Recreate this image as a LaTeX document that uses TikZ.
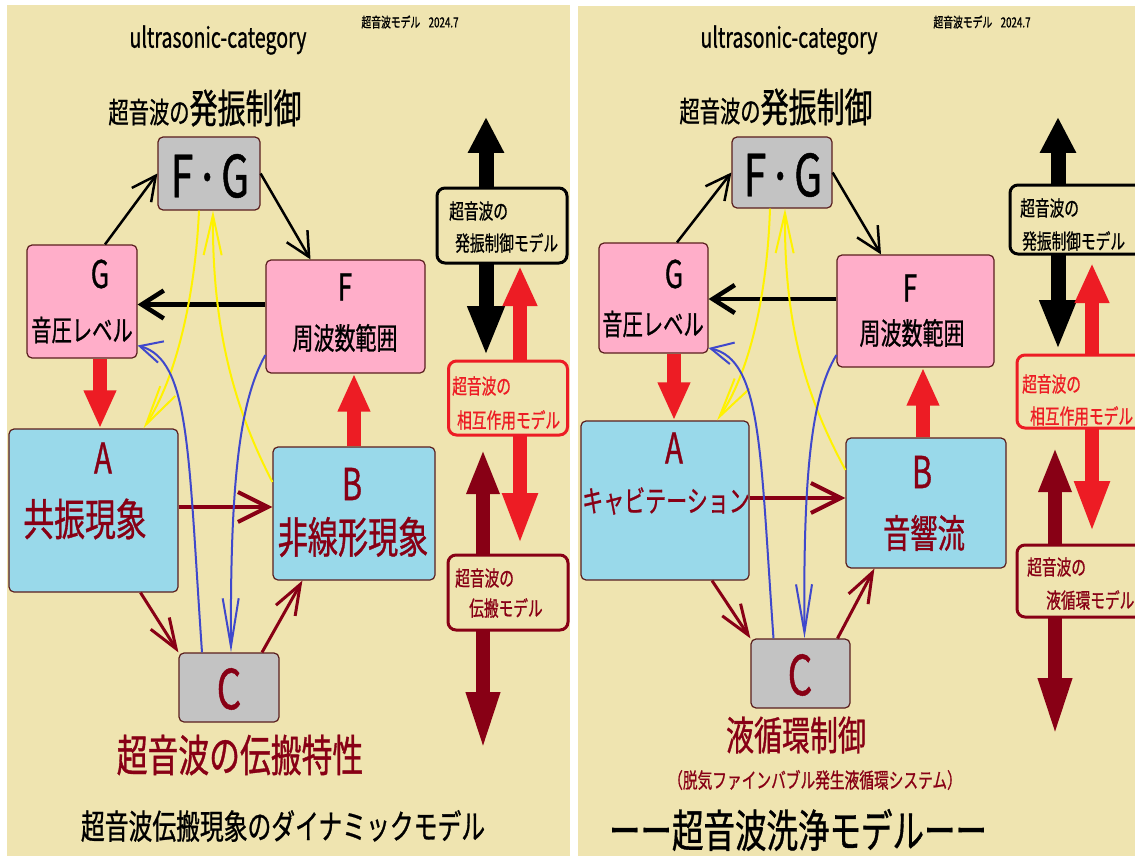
\documentclass[tikz,border=0pt]{standalone}
\usepackage{fontspec}
\usetikzlibrary{arrows.meta}
\setmainfont{Noto Sans CJK JP}[FakeStretch=0.7,FakeBold=0.8]
\newcommand\fsz[1]{\fontsize{#1}{#1}\selectfont}
\newcommand\fgtext{F{\fsz{40}\raisebox{5pt}{・}}G}
\definecolor{bgc}{RGB}{239,228,176}
\definecolor{pinkc}{RGB}{255,174,201}
\definecolor{bluec}{RGB}{153,217,234}
\definecolor{grayc}{RGB}{195,195,195}
\definecolor{dredc}{RGB}{136,0,21}
\definecolor{redc}{RGB}{237,28,36}
\definecolor{yelc}{RGB}{255,242,0}
\definecolor{bluln}{RGB}{63,72,204}
\definecolor{boxln}{RGB}{90,30,30}
\tikzset{
  box/.style={draw=boxln,line width=1.2pt,rounded corners=5pt,inner sep=0pt},
  pinkbox/.style={box,fill=pinkc},
  bluebox/.style={box,fill=bluec},
  graybox/.style={box,fill=grayc},
  modelbox/.style={draw=#1,line width=3pt,fill=bgc,rounded corners=8pt,inner sep=0pt},
  txt/.style={inner sep=0pt},
  bkline/.style={draw=black,line width=2.5pt,-{Straight Barb[length=24pt,width=24pt]}},
  bkthick/.style={draw=black,line width=4.5pt,-{Straight Barb[length=22pt,width=28pt]}},
  drline/.style={draw=dredc,line width=3pt,-{Straight Barb[length=30pt,width=22pt]}},
  drthick/.style={draw=dredc,line width=4pt,-{Straight Barb[length=30pt,width=30pt]}},
  yline/.style={draw=yelc,line width=2pt,-{Straight Barb[length=40pt,width=18pt]}},
  bline/.style={draw=bluln,line width=2pt,-{Straight Barb[length=22pt,width=22pt]}},
  blinelong/.style={draw=bluln,line width=2pt,-{Straight Barb[length=48pt,width=16pt]}},
  redblock/.style={draw=redc,line width=14pt,-{Triangle[length=38pt,width=30pt]}},
  bkdouble/.style={draw=black,line width=15pt,{Triangle[length=36pt,width=34pt]}-{Triangle[length=50pt,width=34pt]}},
  rddouble/.style={draw=redc,line width=14pt,{Triangle[length=40pt,width=32pt]}-{Triangle[length=52pt,width=32pt]}},
  drdouble/.style={draw=dredc,line width=14pt,{Triangle[length=45pt,width=30pt]}-{Triangle[length=60pt,width=30pt]}},
}
\begin{document}
\begin{tikzpicture}[x=1pt,y=-1pt]
\useasboundingbox (0,0) rectangle (1135,856);
\fill[white] (0,0) rectangle (1135,856);
\fill[bgc] (7,5) rectangle (570,856);
\fill[bgc] (578,6) rectangle (1135,856);

% ================= LEFT PANEL =================
\node[txt,font=\fsz{28}] (LT1) at (218,40) {ultrasonic-category};
\node[txt,font=\fsz{14}] (LT2) at (410,22) {超音波モデル\hspace{0.6em}2024.7};
\node[txt] (LT3) at (205,108) {{\fsz{29}超音波の}{\fsz{40}発振制御}};

\node[graybox,minimum width=102pt,minimum height=73pt] (LFG) at (209,173.5) {};
\node[pinkbox,minimum width=110pt,minimum height=113pt] (LG) at (82,301.5) {};
\node[pinkbox,minimum width=159pt,minimum height=113pt] (LF) at (345.5,316.5) {};
\node[bluebox,minimum width=169pt,minimum height=163pt] (LA) at (93.5,510.5) {};
\node[bluebox,minimum width=162pt,minimum height=133pt] (LB) at (354,513.5) {};
\node[graybox,minimum width=100pt,minimum height=69pt] (LC) at (229,687.5) {};

\node[txt,font=\fsz{58}] (LFGt) at (210,176) {\fgtext};
\node[txt,font=\fsz{38}] (LGa) at (100,274) {G};
\node[txt,font=\fsz{29}] (LGb) at (82,330) {音圧レベル};
\node[txt,font=\fsz{37}] (LFa) at (345,287) {F};
\node[txt,font=\fsz{30}] (LFb) at (345,338) {周波数範囲};
\node[txt,font=\fsz{42},text=dredc] (LAa) at (103,458) {A};
\node[txt,font=\fsz{44},text=dredc] (LAb) at (85,519) {共振現象};
\node[txt,font=\fsz{44},text=dredc] (LBa) at (352,484) {B};
\node[txt,font=\fsz{43},text=dredc] (LBb) at (353,537) {非線形現象};
\node[txt,font=\fsz{55},text=dredc] (LCa) at (229,689) {C};
\node[txt,font=\fsz{44},text=dredc] (LT4) at (240,755) {超音波の伝搬特性};
\node[txt,font=\fsz{34}] (LT5) at (283,826) {超音波伝搬現象のダイナミックモデル};

% connectors
\draw[bkline] ([xshift=23pt]LG.north) -- (LFG.west);
\draw[bkline] (LFG.east) -- ([xshift=-35pt]LF.north);
\draw[bkthick] ([yshift=12pt]LF.west) -- ([yshift=12pt]LF.west -| LG.east);
\draw[redblock] ([xshift=18pt]LG.south) -- ([xshift=18pt]LG.south |- LA.north);
\draw[redblock] (LB.north) -- (LB.north |- LF.south);
\draw[drthick] ([yshift=3.5pt]LA.east) -- ([yshift=3.5pt]LA.east -| LB.west);
\draw[drline] ([xshift=47pt]LA.south) -- (LC.north west);
\draw[drline] ([xshift=33pt]LC.north) -- ([xshift=30pt]LB.south west);
\draw[yline] ([xshift=-10pt]LFG.south) .. controls (195,300) and (175,380) .. ([xshift=50pt]LA.north);
\draw[yline] ([yshift=31.5pt]LB.west) .. controls (235,410) and (212,330) .. ([xshift=4pt]LFG.south);
\draw[bline] ([xshift=-27pt]LC.north) .. controls (188,450) and (190,360) .. ([yshift=-44pt]LG.east);
\draw[blinelong] ([yshift=-38.5pt]LF.west) .. controls (240,400) and (230,480) .. ([xshift=2pt]LC.north);

% model column
\coordinate (LbkTop) at (486,117);
\coordinate (LbkBot) at (486,356);
\coordinate (LrdTop) at (520,266);
\coordinate (LrdBot) at (520,545);
\coordinate (LdrTop) at (483,449);
\coordinate (LdrBot) at (483,752);
\draw[bkdouble] (LbkTop) -- (LbkBot);
\draw[rddouble] (LrdTop) -- (LrdBot);
\draw[drdouble] (LdrTop) -- (LdrBot);
\node[modelbox=black,minimum width=130pt,minimum height=75pt] (LM1) at (502,225.5) {};
\node[modelbox=redc,minimum width=119pt,minimum height=74pt] (LM2) at (508,398) {};
\node[modelbox=dredc,minimum width=120pt,minimum height=75pt] (LM3) at (508,592.5) {};
\node[txt,font=\fsz{21},anchor=west] (LM1a) at (449,211) {超音波の};
\node[txt,font=\fsz{21},anchor=west] (LM1b) at (455,243) {発振制御モデル};
\node[txt,font=\fsz{21},anchor=west,text=redc] (LM2a) at (452,386) {超音波の};
\node[txt,font=\fsz{21},anchor=west,text=redc] (LM2b) at (457,420) {相互作用モデル};
\node[txt,font=\fsz{21},anchor=west,text=dredc] (LM3a) at (455,578) {超音波の};
\node[txt,font=\fsz{21},anchor=west,text=dredc] (LM3b) at (469,608) {伝搬モデル};

% ================= RIGHT PANEL =================
\node[txt,font=\fsz{28}] (RT1) at (789,40) {ultrasonic-category};
\node[txt,font=\fsz{14}] (RT2) at (982,22) {超音波モデル\hspace{0.6em}2024.7};
\node[txt] (RT3) at (776,107) {{\fsz{29}超音波の}{\fsz{40}発振制御}};

\node[graybox,minimum width=100pt,minimum height=71pt] (RFG) at (782,172.5) {};
\node[pinkbox,minimum width=109pt,minimum height=110pt] (RG) at (653.5,298) {};
\node[pinkbox,minimum width=157pt,minimum height=112pt] (RF) at (915.5,311) {};
\node[bluebox,minimum width=168pt,minimum height=159pt] (RA) at (665,500.5) {};
\node[bluebox,minimum width=160pt,minimum height=130pt] (RB) at (926,503) {};
\node[graybox,minimum width=99pt,minimum height=69pt] (RC) at (800.5,673.5) {};

\node[txt,font=\fsz{58}] (RFGt) at (783,175) {\fgtext};
\node[txt,font=\fsz{38}] (RGa) at (674,274) {G};
\node[txt,font=\fsz{29}] (RGb) at (653,324) {音圧レベル};
\node[txt,font=\fsz{37}] (RFa) at (910,288) {F};
\node[txt,font=\fsz{30}] (RFb) at (912,333) {周波数範囲};
\node[txt,font=\fsz{42},text=dredc] (RAa) at (674,448) {A};
\node[txt,font=\fsz{30},text=dredc] (RAb) at (666,501) {キャビテーション};
\node[txt,font=\fsz{44},text=dredc] (RBa) at (922,472) {B};
\node[txt,font=\fsz{39},text=dredc] (RBb) at (924,533) {音響流};
\node[txt,font=\fsz{55},text=dredc] (RCa) at (800,675) {C};
\node[txt,font=\fsz{40},text=dredc] (RT4) at (796,735) {液循環制御};
\node[txt,font=\fsz{21},text=dredc] (RT5) at (815,780) {（脱気ファインバブル発生液循環システム）};
\node[txt,font=\fsz{45}] (RT6) at (798,830) {ーー超音波洗浄モデルーー};

\draw[bkline] ([xshift=23.5pt]RG.north) -- (RFG.west);
\draw[bkline] (RFG.east) -- ([xshift=-34.5pt]RF.north);
\draw[bkthick] ([yshift=12pt]RF.west) -- ([yshift=12pt]RF.west -| RG.east);
\draw[redblock] ([xshift=20.5pt]RG.south) -- ([xshift=20.5pt]RG.south |- RA.north);
\draw[redblock] ([xshift=-3pt]RB.north) -- ([xshift=-3pt]RB.north |- RF.south);
\draw[drthick] ([yshift=2.5pt]RA.east) -- ([yshift=2.5pt]RA.east -| RB.west);
\draw[drline] ([xshift=47pt]RA.south) -- (RC.north west);
\draw[drline] ([xshift=37pt]RC.north) -- ([xshift=29pt]RB.south west);
\draw[yline] ([xshift=-12pt]RFG.south) .. controls (767,300) and (748,375) .. ([xshift=52pt]RA.north);
\draw[yline] ([yshift=33pt]RB.west) .. controls (808,400) and (784,330) .. ([xshift=3pt]RFG.south);
\draw[bline] ([xshift=-27pt]RC.north) .. controls (760,450) and (762,360) .. ([yshift=-50pt]RG.east);
\draw[blinelong] ([yshift=-44pt]RF.west) .. controls (812,395) and (803,470) .. ([xshift=4pt]RC.north);

\coordinate (RbkTop) at (1058,117);
\coordinate (RbkBot) at (1058,350);
\coordinate (RrdTop) at (1092,263);
\coordinate (RrdBot) at (1092,533);
\coordinate (RdrTop) at (1055,447);
\coordinate (RdrBot) at (1055,738);
\draw[bkdouble] (RbkTop) -- (RbkBot);
\draw[rddouble] (RrdTop) -- (RrdBot);
\draw[drdouble] (RdrTop) -- (RdrBot);
\node[modelbox=black,minimum width=135pt,minimum height=69pt] (RM1) at (1077.5,219.5) {};
\node[modelbox=redc,minimum width=128pt,minimum height=73pt] (RM2) at (1081,391.5) {};
\node[modelbox=dredc,minimum width=128pt,minimum height=72pt] (RM3) at (1081,581) {};
\node[txt,font=\fsz{21},anchor=west] (RM1a) at (1020,208) {超音波の};
\node[txt,font=\fsz{21},anchor=west] (RM1b) at (1022,241) {発振制御モデル};
\node[txt,font=\fsz{21},anchor=west,text=redc] (RM2a) at (1022,384) {超音波の};
\node[txt,font=\fsz{21},anchor=west,text=redc] (RM2b) at (1030,416) {相互作用モデル};
\node[txt,font=\fsz{21},anchor=west,text=dredc] (RM3a) at (1027,567) {超音波の};
\node[txt,font=\fsz{21},anchor=west,text=dredc] (RM3b) at (1046,600) {液循環モデル};
\end{tikzpicture}
\end{document}
